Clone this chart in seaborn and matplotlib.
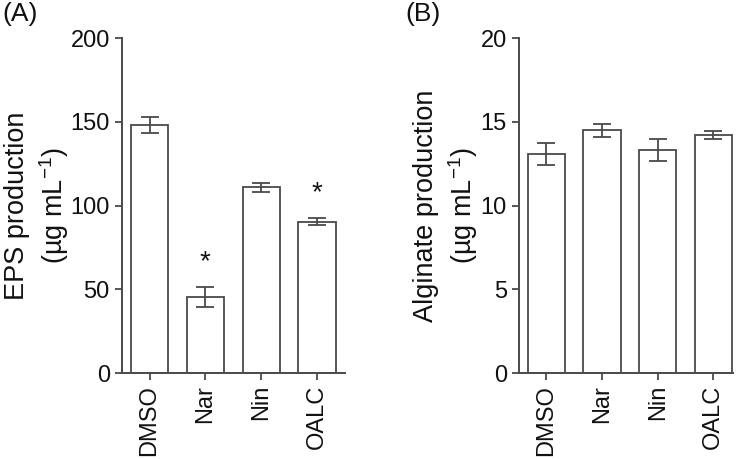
import numpy as np
import matplotlib
matplotlib.use('Agg')
import matplotlib.pyplot as plt
import seaborn as sns

# data
treatments = ['DMSO', 'Nar', 'Nin', 'OALC']
eps_mean = [148, 45.5, 111, 90.5]
eps_err = [4.8, 5.8, 2.8, 2.0]
eps_sig = ['', '*', '', '*']
alg_mean = [13.1, 14.5, 13.3, 14.2]
alg_err = [0.65, 0.4, 0.65, 0.23]

sns.set_style('ticks')
plt.rcParams['font.family'] = ['Liberation Sans', 'DejaVu Sans']
plt.rcParams['mathtext.fontset'] = 'custom'
plt.rcParams['mathtext.rm'] = 'Liberation Sans'
plt.rcParams['mathtext.it'] = 'Liberation Sans'

line_col = '#4a4a4a'

fig = plt.figure(figsize=(7.46, 4.59), dpi=100)
axA = fig.add_axes([0.163, 0.187, 0.2995, 0.730])
axB = fig.add_axes([0.6953, 0.187, 0.2870, 0.730])


def draw_panel(ax, means, errs, ylim, yticks, ylabel, xright):
    sns.barplot(x=treatments, y=means, color='white', edgecolor=line_col,
                linewidth=1.3, width=0.67, errorbar=None, ax=ax)
    for p in ax.patches:
        p.set_facecolor('white')
    ax.errorbar(range(len(treatments)), means, yerr=errs, fmt='none',
                ecolor=line_col, elinewidth=1.3, capsize=6.8, capthick=1.3)
    ax.set_xlim(-0.5, xright)
    ax.set_ylim(*ylim)
    ax.set_yticks(yticks)
    sns.despine(ax=ax)
    for s in ['left', 'bottom']:
        ax.spines[s].set_color(line_col)
        ax.spines[s].set_linewidth(1.4)
    ax.tick_params(axis='both', colors=line_col, width=1.3, length=5,
                   labelsize=17, labelcolor='#111111')
    ax.tick_params(axis='x', labelrotation=90)
    ax.set_xlabel('')
    ax.set_ylabel(ylabel, fontsize=19.5, color='#111111', linespacing=1.25)


draw_panel(axA, eps_mean, eps_err, (0, 200), [0, 50, 100, 150, 200],
           'EPS production\n(µg mL$^{-1}$)', 3.5)
draw_panel(axB, alg_mean, alg_err, (0, 20), [0, 5, 10, 15, 20],
           'Alginate production\n(µg mL$^{-1}$)', 3.35)

axA.yaxis.set_label_coords(-0.228, 0.5)
axB.yaxis.set_label_coords(-0.182, 0.5)

# significance stars
for i, s in enumerate(eps_sig):
    if s:
        axA.text(i, eps_mean[i] + eps_err[i] + 15, s, ha='center',
                 va='center', fontsize=20, color='#111111')

fig.text(0.003, 0.995, '(A)', fontsize=19, ha='left', va='top', color='#111111')
fig.text(0.543, 0.995, '(B)', fontsize=19, ha='left', va='top', color='#111111')

fig.savefig('out.png', dpi=100)
